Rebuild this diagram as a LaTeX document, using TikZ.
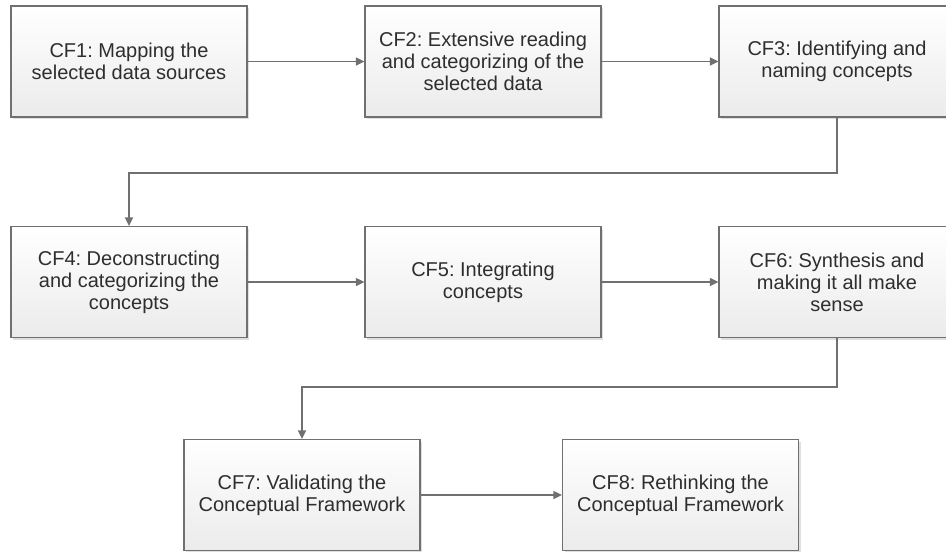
\documentclass[tikz,border=0pt]{standalone}
\usepackage{fontspec}
\setmainfont{Liberation Sans}
\usetikzlibrary{arrows.meta,shadows}
\definecolor{edgegray}{HTML}{707070}
\definecolor{textgray}{HTML}{2E2E2E}
\definecolor{boxbottom}{HTML}{EBEBEB}
\tikzset{
  stepbox/.style={
    rectangle, draw=edgegray, line width=1.3pt,
    top color=white, bottom color=boxbottom,
    minimum width=236pt, minimum height=111pt,
    inner sep=0pt, align=center, text=textgray,
    font=\fontsize{20}{22}\selectfont\frenchspacing,
    drop shadow={shadow xshift=2pt, shadow yshift=-2pt, opacity=0.25, fill=gray}
  },
  flow/.style={
    draw=edgegray, line width=1.4pt,
    -{Triangle[length=8.5pt,width=8pt]}
  }
}
\begin{document}
\begin{tikzpicture}[x=1pt,y=-1pt]
  \useasboundingbox (0,0) rectangle (946,552);
  \clip (0,0) rectangle (946,552);

  % first row
  \node[stepbox] (cf1) at (129,61.5) {CF1: Mapping the\\selected data sources};
  \node[stepbox] (cf2) at (483,61.5) {CF2: Extensive reading\\and categorizing of the\\selected data};
  \node[stepbox] (cf3) at (837,61.5) {CF3: Identifying and\\naming concepts};

  % second row
  \node[stepbox] (cf4) at (129,282) {CF4: Deconstructing\\and categorizing the\\concepts};
  \node[stepbox] (cf5) at (483,282) {CF5: Integrating\\concepts};
  \node[stepbox] (cf6) at (837,282) {CF6: Synthesis and\\making it all make\\sense};

  % third row
  \node[stepbox] (cf7) at (302,495) {CF7: Validating the\\Conceptual Framework};
  \node[stepbox] (cf8) at (680.5,495) {CF8: Rethinking the\\Conceptual Framework};

  % bends between rows
  \coordinate (bendA) at (837,173);
  \coordinate (bendB) at (129,173);
  \coordinate (bendC) at (837,387);
  \coordinate (bendD) at (302,387);

  % connectors
  \draw[flow] (cf1) -- (cf2);
  \draw[flow] (cf2) -- (cf3);
  \draw[flow] (cf3.south) -- (bendA) -- (bendB) -- (cf4.north);
  \draw[flow] (cf4) -- (cf5);
  \draw[flow] (cf5) -- (cf6);
  \draw[flow] (cf6.south) -- (bendC) -- (bendD) -- (cf7.north);
  \draw[flow] (cf7) -- (cf8);
\end{tikzpicture}
\end{document}
